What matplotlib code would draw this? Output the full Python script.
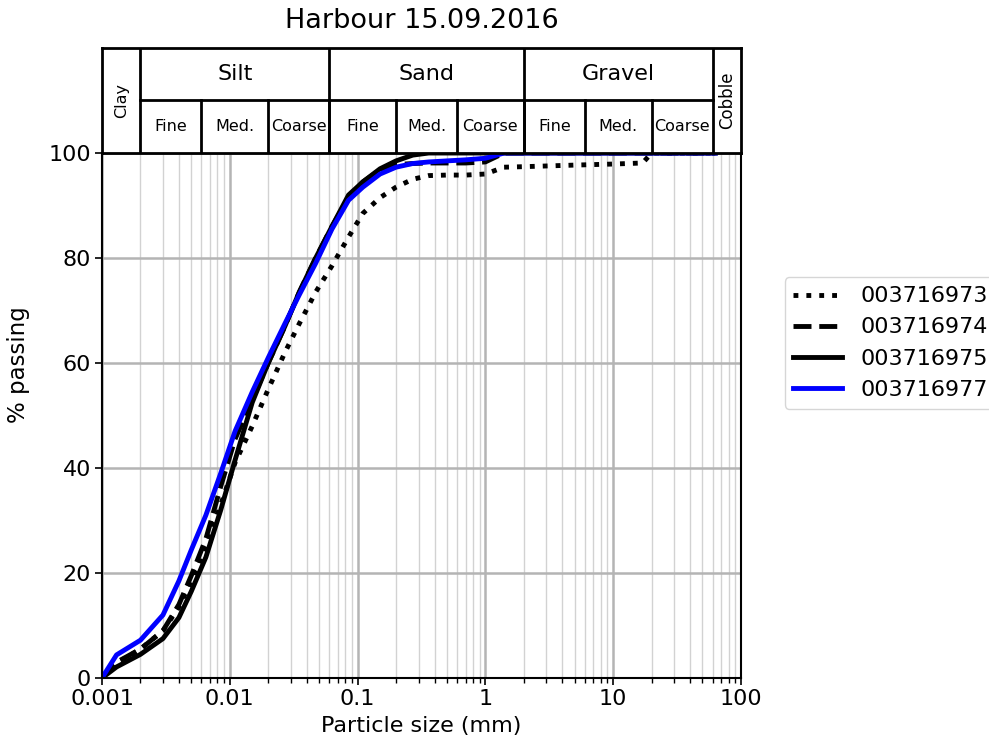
import numpy as np
import matplotlib
matplotlib.use("Agg")
import matplotlib.pyplot as plt
from matplotlib.ticker import FixedLocator, LogLocator, NullFormatter

# particle sizes (mm) and % passing per sample
size_mm = [0.001, 0.0013, 0.002, 0.003, 0.004, 0.005, 0.0065, 0.0085, 0.011,
           0.015, 0.02, 0.027, 0.035, 0.047, 0.063, 0.085, 0.11, 0.15, 0.2,
           0.27, 0.36, 0.5, 0.7, 1.0, 1.4, 2.0, 5.0, 10.0, 17.0, 20.0, 63.0]

s973 = [0, 2.8, 5.5, 9, 13.5, 18.5, 25, 33, 41, 48, 55, 62, 67.5, 73.5, 78.5,
        84, 88.5, 91.5, 93.5, 95, 95.7, 95.8, 95.8, 96, 97.3, 97.4, 97.7,
        97.9, 98.1, 100, 100]
s974 = [0, 3, 5.5, 9, 14, 19.5, 26.5, 36.5, 45.5, 53, 60, 67, 73.5, 80, 86,
        91.5, 94.5, 96.8, 97.8, 98, 98.1, 98.1, 98.1, 98.3, 100, 100, 100,
        100, 100, 100, 100]
s975 = [0, 2.1, 4.5, 7.5, 11.5, 16.5, 23, 32, 41.5, 52.5, 60, 67, 73.5, 80,
        86, 92, 94.5, 97, 98.5, 99.6, 100, 100, 100, 100, 100, 100, 100, 100,
        100, 100, 100]
s977 = [0, 4.4, 7.2, 12, 18.5, 24.4, 31, 39, 47, 54.5, 61, 67.5, 73, 79,
        85.5, 91, 93.5, 96, 97.3, 98, 98.3, 98.5, 98.7, 99, 100, 100, 100,
        100, 100, 100, 100]

samples = ["003716973", "003716974", "003716975", "003716977"]
series = [s973, s974, s975, s977]
styles = [(":", "black"), ("--", "black"), ("-", "black"), ("-", "blue")]

# classification header
bounds_main = [0.001, 0.002, 0.06, 2.0, 60.0, 100.0]
main_names = ["Silt", "Sand", "Gravel"]
bounds_sub = [0.002, 0.006, 0.02, 0.06, 0.2, 0.6, 2.0, 6.0, 20.0, 60.0]
sub_names = ["Fine", "Med.", "Coarse"] * 3

fig = plt.figure(figsize=(9.89, 7.49), dpi=100)
ax = fig.add_axes([0.1031, 0.0948, 0.6461, 0.7009])
hx = fig.add_axes([0.1031, 0.7957, 0.6461, 0.1403])

for (ls, col), vals, name in zip(styles, series, samples):
    ax.plot(size_mm, vals, linestyle=ls, color=col, lw=3.5, label=name)

ax.set_xscale("log")
ax.set_xlim(0.001, 100)
ax.set_ylim(0, 100)
ax.set_yticks([0, 20, 40, 60, 80, 100])
ax.xaxis.set_major_locator(FixedLocator([0.001, 0.01, 0.1, 1, 10, 100]))
ax.set_xticklabels(["0.001", "0.01", "0.1", "1", "10", "100"])
ax.xaxis.set_minor_locator(LogLocator(base=10, subs=np.arange(2, 10), numticks=20))
ax.xaxis.set_minor_formatter(NullFormatter())
ax.grid(True, which="major", color="#b4b4b4", lw=1.8)
ax.grid(True, which="minor", axis="x", color="#d2d2d2", lw=1.0)
ax.set_axisbelow(True)
ax.tick_params(labelsize=16, width=1.2, length=5, pad=3)
ax.tick_params(which="minor", width=1.0, length=3.5)
for sp in ax.spines.values():
    sp.set_linewidth(1.5)
ax.set_xlabel("Particle size (mm)", fontsize=16, labelpad=5)
fig.text(0.019, 0.513, "% passing", rotation=90, ha="center", va="center",
         fontsize=16.5)

# header table
hx.set_xscale("log")
hx.set_xlim(0.001, 100)
hx.set_ylim(0, 2)
hx.set_xticks([])
hx.set_yticks([])
hx.minorticks_off()
for sp in hx.spines.values():
    sp.set_linewidth(2)
for b in bounds_main[1:-1]:
    hx.plot([b, b], [0, 2], color="black", lw=2)
for b in bounds_sub[1:-1]:
    hx.plot([b, b], [0, 1], color="black", lw=2)
hx.plot([0.002, 60], [1, 1], color="black", lw=2)
for i, name in enumerate(main_names):
    xc = np.sqrt(bounds_main[i + 1] * bounds_main[i + 2])
    hx.text(xc, 1.5, name, ha="center", va="center", fontsize=16)
for i, name in enumerate(sub_names):
    xc = np.sqrt(bounds_sub[i] * bounds_sub[i + 1])
    hx.text(xc, 0.5, name, ha="center", va="center", fontsize=11.5)
hx.text(np.sqrt(0.001 * 0.002), 1.0, "Clay", rotation=90, ha="center",
        va="center", fontsize=11.5)
hx.text(np.sqrt(60 * 100), 1.0, "Cobble", rotation=90, ha="center",
        va="center", fontsize=12)
hx.set_title("Harbour 15.09.2016", fontsize=19.5, pad=14)

fig.legend(loc="center left", bbox_to_anchor=(0.782, 0.542), fontsize=16,
           handlelength=2.2)

fig.savefig("out.png", dpi=100)
